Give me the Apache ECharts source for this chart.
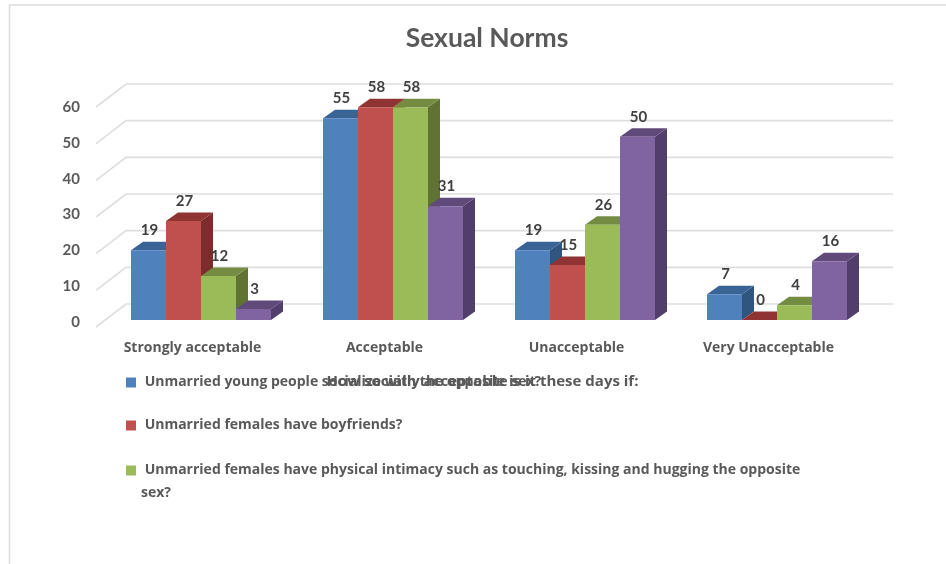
<!DOCTYPE html>
<html>
<head>
<meta charset="utf-8">
<style>
  html, body { margin: 0; padding: 0; background: #fff; }
  #chart { width: 946px; height: 564px; }
</style>
<script src="https://cdn.jsdelivr.net/npm/echarts@6/dist/echarts.min.js"></script>
</head>
<body>
<div id="chart"></div>
<script>
const categories = ['Strongly acceptable', 'Acceptable', 'Unacceptable', 'Very Unacceptable'];
const socializeValues = [19, 55, 19, 7];
const boyfriendValues = [27, 58, 15, 0];
const intimacyValues = [12, 58, 26, 4];
const fourthValues = [3, 31, 50, 16];
const yTicks = [0, 10, 20, 30, 40, 50, 60];

const socializeName = 'Unmarried young people socialize with the opposite sex?';
const boyfriendName = 'Unmarried females have boyfriends?';
const intimacyName = 'Unmarried females have physical intimacy such as touching, kissing and hugging the opposite sex?';

const FONT = 'Lato';
const WIDE_FONT = 'Open Sans';
const TEXT = '#595959';
const WALL = '#dedede';

// 3d look: bars have a small depth, the walls sit further back
const BAR_DX = 12, BAR_DY = 8.5;
const BAR_SHARE = 35 / 192;

function barSeries(name, values, slot, front, top, side) {
    return {
        name: name,
        type: 'custom',
        xAxisIndex: 0,
        yAxisIndex: 0,
        z: 3,
        itemStyle: { color: front },
        encode: { x: 0, y: 1 },
        data: values.map((v, i) => [i, v]),
        renderItem: function (params, api) {
            const base = api.coord([api.value(0), 0]);
            const tip = api.coord([api.value(0), api.value(1)]);
            const w = api.size([1, 0])[0] * BAR_SHARE;
            const x0 = base[0] + (slot - 2) * w;
            const x1 = x0 + w;
            const y0 = base[1];
            const y1 = tip[1];
            return {
                type: 'group',
                children: [
                    { type: 'polygon', shape: { points: [[x1, y0], [x1 + BAR_DX, y0 - BAR_DY], [x1 + BAR_DX, y1 - BAR_DY], [x1, y1]] }, style: { fill: side } },
                    { type: 'polygon', shape: { points: [[x0, y1], [x0 + BAR_DX, y1 - BAR_DY], [x1 + BAR_DX, y1 - BAR_DY], [x1, y1]] }, style: { fill: top } },
                    { type: 'rect', shape: { x: x0, y: y1, width: w, height: y0 - y1 }, style: { fill: front } },
                    {
                        type: 'text',
                        x: x0 + w / 2 + 1,
                        y: y1 - 20,
                        style: {
                            text: String(api.value(1)),
                            fill: '#404040',
                            font: 'bold 15px ' + FONT,
                            align: 'center',
                            verticalAlign: 'middle'
                        }
                    }
                ]
            };
        }
    };
}

const wallSeries = {
    name: 'walls',
    type: 'custom',
    xAxisIndex: 0,
    yAxisIndex: 0,
    z: 1,
    silent: true,
    encode: { x: 0, y: 1 },
    data: yTicks.map((t) => [0, t]),
    renderItem: function (params, api) {
        const y = api.coord([0, api.value(1)])[1];
        const left = params.coordSys.x;
        const right = left + params.coordSys.width;
        return {
            type: 'polyline',
            shape: { points: [[left - 9, y + 7], [left + 21, y - 16], [right + 20, y - 16]] },
            style: { stroke: WALL, lineWidth: 1.6, fill: null }
        };
    }
};

const chart = echarts.init(document.getElementById('chart'));
const legendText = { fontFamily: WIDE_FONT, fontWeight: 'bold', fontSize: 14, color: TEXT, lineHeight: 23 };

chart.setOption({
    animation: false,
    backgroundColor: '#fff',
    title: {
        text: 'Sexual Norms',
        left: 482,
        top: 20,
        textAlign: 'center',
        textStyle: { fontFamily: FONT, fontWeight: 'bold', fontSize: 26.5, color: TEXT }
    },
    graphic: [
        { type: 'rect', z: -1, shape: { x: 9.5, y: 5, width: 1000, height: 600 }, style: { fill: 'none', stroke: '#dcdcdc', lineWidth: 1.5 } }
    ],
    grid: [
        { left: 105, top: 100, width: 768, height: 220 },
        // the value labels sit a little lower and tighter than the bars' scale
        { left: 105, top: 107, width: 768, height: 215 }
    ],
    xAxis: [
        {
            type: 'category',
            data: categories,
            name: 'How socially acceptable is it these days if:',
            nameLocation: 'middle',
            nameGap: 54,
            nameTextStyle: { fontFamily: WIDE_FONT, fontWeight: 'bold', fontSize: 15, color: TEXT, padding: [0, 13, 0, 0] },
            axisLine: { show: false },
            axisTick: { show: false },
            axisLabel: { fontFamily: WIDE_FONT, fontWeight: 'bold', fontSize: 14, color: TEXT, margin: 21, interval: 0, padding: [0, 17, 0, 0] }
        },
        { type: 'category', gridIndex: 1, data: categories, show: false }
    ],
    yAxis: [
        {
            type: 'value',
            min: 0,
            max: 60,
            interval: 10,
            axisLine: { show: false },
            axisTick: { show: false },
            splitLine: { show: false },
            axisLabel: { show: false }
        },
        {
            type: 'value',
            gridIndex: 1,
            min: 0,
            max: 60,
            interval: 10,
            axisLine: { show: false },
            axisTick: { show: false },
            splitLine: { show: false },
            axisLabel: { fontFamily: FONT, fontWeight: 'bold', fontSize: 15, color: TEXT, margin: 25 }
        }
    ],
    legend: [
        {
            data: [socializeName, boyfriendName],
            orient: 'vertical',
            left: 126,
            top: 371,
            padding: 0,
            icon: 'rect',
            itemWidth: 10,
            itemHeight: 10,
            itemGap: 20,
            selectedMode: false,
            formatter: (name) => '\u00a0' + name,
            textStyle: legendText
        },
        {
            data: [intimacyName],
            orient: 'vertical',
            left: 126,
            top: 436,
            padding: 0,
            icon: 'rect',
            itemWidth: 10,
            itemHeight: 10,
            selectedMode: false,
            // blank first line keeps the icon level with the first text line
            formatter: () => '\n\u00a0Unmarried females have physical intimacy such as touching, kissing and hugging the opposite\nsex?',
            textStyle: legendText
        }
    ],
    series: [
        wallSeries,
        barSeries(socializeName, socializeValues, 0, '#4f81bd', '#3a6396', '#30557f'),
        barSeries(boyfriendName, boyfriendValues, 1, '#c0504d', '#8f3432', '#7c2c2a'),
        barSeries(intimacyName, intimacyValues, 2, '#9bbb59', '#748c42', '#5f7333'),
        barSeries('Fourth item', fourthValues, 3, '#8064a2', '#5f4a7a', '#523e6c')
    ]
});
</script>
</body>
</html>
